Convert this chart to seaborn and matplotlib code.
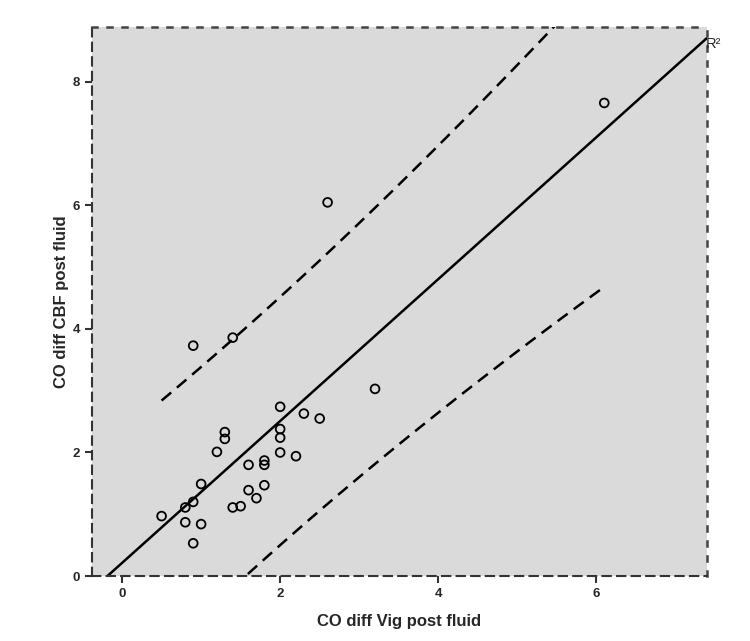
import numpy as np
import pandas as pd
import matplotlib
matplotlib.use("Agg")
import matplotlib.pyplot as plt
import seaborn as sns

# valori
co_vig = [0.5, 0.8, 0.9, 0.8, 1.0, 0.9, 1.0, 1.2, 1.3, 1.3, 1.4, 1.5, 1.6, 1.6, 1.7,
          1.8, 1.8, 1.8, 2.0, 2.0, 2.0, 2.0, 2.2, 2.3, 2.5, 0.9, 1.4, 2.6, 3.2, 6.1]
co_cbf = [0.97, 1.11, 1.20, 0.87, 0.84, 0.53, 1.49, 2.01, 2.33, 2.22, 1.11, 1.13, 1.80, 1.39, 1.26,
          1.87, 1.80, 1.47, 2.74, 2.38, 2.24, 2.00, 1.94, 2.63, 2.55, 3.73, 3.86, 6.05, 3.03, 7.66]
x_ticks = [0, 2, 4, 6]
y_ticks = [0, 2, 4, 6, 8]
t_95 = 2.048  # t(0.975, df=28)

df = pd.DataFrame({"vig": co_vig, "cbf": co_cbf})

sns.set_style("ticks")
plt.rcParams['font.family'] = ['Liberation Sans', 'DejaVu Sans']

fig = plt.figure(figsize=(7.5, 6.41), dpi=100)
ax = fig.add_axes([0.1227, 0.1014, 0.82, 0.8565])
ax.set_facecolor("#dadada")

# regressione lineare + intervallo di previsione individuale
slope, intercept = np.polyfit(df["vig"], df["cbf"], 1)
n = len(df)
res = df["cbf"] - (intercept + slope * df["vig"])
s = np.sqrt((res ** 2).sum() / (n - 2))
xm = df["vig"].mean()
sxx = ((df["vig"] - xm) ** 2).sum()

xlim = (-0.38, 7.40)
xfit = np.linspace(xlim[0], xlim[1], 50)
fit = pd.DataFrame({"x": xfit, "y": intercept + slope * xfit})
sns.lineplot(data=fit, x="x", y="y", color="black", lw=1.8, ax=ax)

xp = np.linspace(df["vig"].min(), df["vig"].max(), 60)
half = t_95 * s * np.sqrt(1 + 1 / n + (xp - xm) ** 2 / sxx)
pred = intercept + slope * xp
sns.lineplot(x=xp, y=pred + half, color="black", lw=1.8, ax=ax, linestyle=(0, (5, 3)))
sns.lineplot(x=xp, y=pred - half, color="black", lw=1.8, ax=ax, linestyle=(0, (5, 3)))

sns.scatterplot(data=df, x="vig", y="cbf", s=40, facecolor="none", edgecolor="black",
                linewidth=1.3, ax=ax, zorder=5)

ax.text(xlim[1] - 0.02, intercept + slope * xlim[1] - 0.1, "R²", fontsize=10.5, ha="left",
        va="center", clip_on=False)

ax.set_xlim(xlim)
ax.set_ylim(0, 8.89)
ax.set_xticks(x_ticks)
ax.set_yticks(y_ticks)
ax.tick_params(length=5, width=1.5, color="#333333", labelsize=9.5)
for lab in ax.get_xticklabels() + ax.get_yticklabels():
    lab.set_fontweight("bold")

for side in ["left", "bottom"]:
    ax.spines[side].set_linestyle((0, (4, 3)))
    ax.spines[side].set_color("#333333")
    ax.spines[side].set_linewidth(1.5)
for side in ["top", "right"]:
    ax.spines[side].set_visible(True)
    ax.spines[side].set_linestyle((0, (2, 4)))
    ax.spines[side].set_color("#444444")
    ax.spines[side].set_linewidth(1.8)

ax.set_xlabel("CO diff Vig post fluid", fontsize=12, fontweight="bold", labelpad=10)
ax.set_ylabel("CO diff CBF post fluid", fontsize=12, fontweight="bold", labelpad=3)

fig.savefig("out.png", dpi=100)
